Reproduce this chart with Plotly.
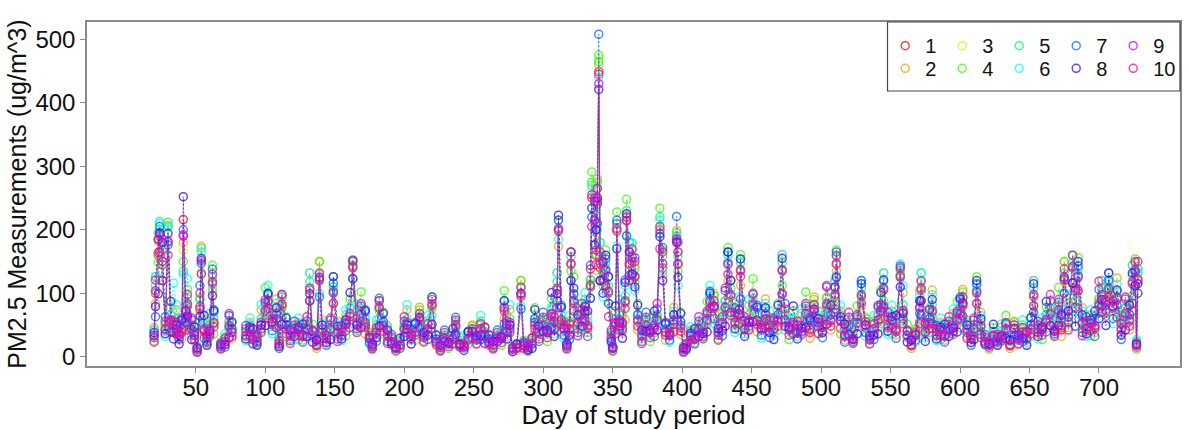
import plotly.graph_objects as go

N = None
days = [
    20, 21, 23, 24, 26, 28, 30, 32, 34, 36,
    38, 40, 41, 43, 44, 47, 49, 51, 53, 54,
    56, 58, 60, 62, 63, 65, 68, 71, 74, 76,
    80, 86, 89, 91, 94, 97, 100, 102, 105, 108,
    110, 112, 115, 118, 121, 124, 127, 130, 132, 134,
    137, 139, 141, 144, 147, 149, 152, 155, 158, 161,
    163, 166, 169, 172, 175, 177, 180, 182, 185, 188,
    191, 194, 197, 200, 202, 205, 208, 211, 214, 217,
    220, 223, 226, 229, 232, 235, 237, 240, 243, 246,
    249, 252, 255, 258, 261, 264, 267, 270, 272, 274,
    276, 278, 281, 284, 286, 289, 292, 294, 297, 300,
    303, 306, 308, 310, 311, 313, 315, 317, 319, 320,
    322, 325, 328, 330, 332, 334, 335, 337, 338, 339,
    340, 341, 343, 345, 347, 349, 350, 352, 353, 355,
    357, 359, 360, 362, 364, 366, 368, 371, 374, 377,
    380, 382, 384, 386, 388, 391, 394, 396, 397, 399,
    401, 403, 406, 409, 412, 415, 418, 420, 423, 426,
    429, 431, 433, 435, 438, 441, 442, 445, 448, 451,
    454, 457, 460, 463, 466, 469, 472, 474, 477, 480,
    483, 486, 489, 492, 495, 498, 501, 504, 507, 510,
    511, 514, 517, 520, 523, 526, 529, 532, 535, 538,
    541, 543, 545, 548, 551, 554, 557, 559, 562, 565,
    568, 571, 572, 575, 578, 580, 583, 586, 589, 592,
    595, 598, 600, 602, 605, 608, 610, 612, 615, 618,
    621, 624, 627, 630, 633, 636, 639, 642, 645, 648,
    651, 653, 656, 659, 662, 665, 668, 671, 673, 675,
    678, 681, 683, 685, 688, 691, 694, 697, 700, 702,
    705, 707, 710, 713, 716, 719, 722, 724, 726, 727,
    728,
]

station_1 = [
    33, 100, 160, 190, 145, 42, 180, 55, 38, 52,
    28, 42, 216, 60, 80, 42, 33, 11, 75, 150,
    42, 22, 42, 115, 52, N, 17, 23, 46, 38,
    N, 32, 42, 28, 22, 50, 70, 85, 50, 66,
    20, 80, 42, 33, 38, 42, 32, 42, 105, 32,
    18, 120, 42, 28, 42, 100, 38, 33, 50, 66,
    140, 52, 66, 50, 28, 16, 38, 76, 46, 33,
    23, 13, 18, 42, 50, 28, 38, 58, 32, 42,
    80, 23, 14, 28, 20, 28, 46, 20, 14, 28,
    38, 28, 42, 33, 23, 18, 28, 28, 76, 38,
    50, 11, 14, 95, 18, 14, 20, 50, 38, 46,
    38, 66, 42, 105, 200, 55, 42, 17, 42, 145,
    85, 52, 56, 70, 46, 110, 250, 215, 160, 240,
    449, 140, 120, 135, 100, 28, 13, 52, 210, 56,
    42, 85, 215, 145, 150, 125, 56, 33, 46, 38,
    46, 56, 200, 140, 38, 33, 56, 185, 145, 46,
    11, 14, 33, 28, 42, 38, 56, 85, 76, 38,
    52, 76, 145, 95, 52, 66, 135, 42, 56, 80,
    56, 42, 66, 46, 42, 56, 135, 56, 42, 52,
    38, 46, 66, 42, 70, 52, 46, 80, 56, 95,
    145, 56, 33, 46, 28, 52, 95, 46, 28, 42,
    56, 70, 105, 46, 56, 42, 125, 70, 33, 18,
    33, 76, 105, 38, 52, 70, 33, 42, 33, 42,
    46, 56, 66, 80, 42, 28, 42, 100, 46, 23,
    18, 33, 23, 33, 42, 18, 42, 28, 38, 28,
    42, 95, 38, 42, 56, 66, 42, 70, 46, 120,
    62, 140, 76, 125, 52, 42, 52, 46, 80, 95,
    70, 105, 76, 90, 42, 66, 56, 115, 135, 18,
    120,
]

station_2 = [
    46, 84, 182, 166, 180, 40, 207, 45, 42, 74,
    26, 29, 180, 85, 68, 50, 25, 17, 72, 174,
    34, 26, 61, 102, 36, N, 23, 20, 55, 28,
    N, 32, 54, 22, 26, 74, 64, 58, 69, 91,
    18, 94, 32, 49, 36, 54, 26, 47, 132, 30,
    13, 150, 58, 24, 50, 84, 56, 32, 66, 52,
    152, 74, 60, 36, 38, 23, 32, 88, 35, 49,
    22, 17, 15, 47, 74, 26, 26, 78, 46, 36,
    94, 18, 21, 27, 26, 22, 52, 30, 13, 20,
    50, 39, 36, 38, 18, 28, 27, 36, 60, 42,
    74, 10, 10, 120, 26, 12, 24, 38, 56, 45,
    48, 52, 47, 132, 174, 39, 56, 23, 36, 165,
    63, 77, 54, 90, 38, 121, 270, 187, 136, 280,
    460, 120, 138, 112, 126, 27, 17, 41, 200, 81,
    38, 58, 223, 180, 128, 143, 42, 49, 45, 48,
    38, 63, 200, 128, 26, 44, 78, 199, 165, 35,
    17, 14, 42, 22, 47, 54, 51, 58, 100, 52,
    44, 88, 120, 120, 50, 84, 112, 47, 81, 72,
    39, 56, 91, 40, 50, 42, 161, 54, 54, 41,
    42, 68, 60, 29, 94, 72, 40, 94, 42, 120,
    135, 72, 26, 52, 40, 47, 80, 62, 39, 36,
    66, 52, 132, 45, 72, 34, 136, 101, 30, 13,
    44, 104, 88, 44, 38, 105, 32, 54, 26, 47,
    68, 51, 46, 106, 58, 24, 50, 84, 70, 22,
    24, 26, 26, 47, 38, 13, 56, 39, 32, 33,
    32, 120, 36, 54, 45, 74, 61, 64, 32, 150,
    84, 116, 88, 104, 77, 40, 66, 38, 89, 120,
    64, 88, 100, 124, 36, 77, 42, 144, 126, 24,
    100,
]

station_3 = [
    36, 102, 162, 185, 148, 46, 178, 58, 41, 56,
    31, 44, 168, 64, 84, 46, 36, 12, 78, 150,
    46, 24, 44, 118, 54, N, 19, 26, 49, 41,
    N, 34, 44, 31, 26, 54, 74, 88, 54, 68,
    23, 84, 44, 34, 41, 44, 34, 44, 108, 34,
    21, 122, 44, 31, 44, 102, 41, 34, 54, 68,
    142, 54, 68, 54, 31, 19, 41, 78, 49, 34,
    26, 14, 21, 44, 54, 31, 41, 60, 34, 44,
    84, 26, 16, 31, 23, 31, 49, 23, 16, 31,
    41, 31, 44, 34, 26, 21, 31, 31, 78, 41,
    54, 12, 16, 98, 21, 16, 23, 54, 41, 49,
    41, 68, 44, 108, 200, 58, 44, 19, 44, 146,
    88, 54, 58, 74, 49, 112, 255, 218, 168, 250,
    470, 146, 122, 138, 102, 31, 14, 54, 200, 58,
    44, 88, 220, 146, 158, 128, 58, 34, 49, 41,
    49, 58, 205, 146, 41, 34, 58, 185, 146, 49,
    12, 16, 34, 31, 44, 41, 58, 88, 78, 41,
    54, 78, 146, 98, 54, 68, 138, 44, 58, 84,
    58, 44, 68, 49, 44, 58, 138, 58, 44, 54,
    41, 49, 68, 44, 74, 54, 49, 84, 58, 98,
    146, 58, 34, 49, 31, 54, 98, 49, 31, 44,
    58, 74, 108, 49, 58, 44, 128, 74, 34, 21,
    34, 78, 108, 41, 54, 74, 34, 44, 34, 44,
    49, 58, 68, 84, 44, 31, 44, 102, 49, 26,
    21, 34, 26, 34, 44, 21, 44, 31, 41, 31,
    44, 98, 41, 44, 58, 68, 44, 74, 49, 122,
    64, 142, 78, 128, 54, 44, 54, 49, 84, 98,
    74, 108, 78, 94, 44, 68, 58, 118, 138, 21,
    122,
]

station_4 = [
    25, 126, 149, 200, 120, 52, 205, 78, 40, 41,
    44, 43, 150, 46, 106, 40, 49, 10, 92, 132,
    58, 25, 34, 144, 52, N, 13, 31, 45, 56,
    N, 40, 27, 39, 25, 41, 109, 86, 66, 49,
    28, 77, 63, 28, 46, 27, 46, 45, 88, 51,
    19, 150, 32, 38, 40, 126, 32, 40, 33, 91,
    145, 41, 102, 52, 36, 13, 50, 72, 70, 28,
    29, 8, 26, 45, 41, 44, 38, 74, 25, 56,
    76, 35, 12, 34, 13, 39, 50, 16, 22, 28,
    48, 21, 56, 32, 35, 16, 34, 18, 104, 40,
    41, 17, 14, 120, 14, 19, 20, 77, 32, 58,
    24, 91, 45, 88, 215, 57, 54, 13, 56, 135,
    126, 44, 69, 45, 65, 115, 291, 242, 162, 275,
    475, 180, 112, 168, 84, 34, 8, 72, 228, 45,
    65, 86, 248, 120, 179, 117, 84, 28, 58, 24,
    65, 60, 234, 168, 38, 42, 42, 195, 135, 70,
    10, 17, 21, 39, 45, 30, 87, 86, 96, 28,
    69, 72, 172, 80, 63, 42, 161, 45, 45, 123,
    57, 54, 49, 62, 40, 84, 112, 69, 27, 72,
    40, 38, 102, 43, 90, 38, 62, 76, 84, 80,
    168, 36, 46, 50, 22, 80, 95, 60, 21, 56,
    54, 105, 88, 58, 36, 58, 130, 56, 51, 19,
    42, 56, 132, 36, 77, 60, 40, 27, 46, 45,
    38, 87, 66, 102, 32, 38, 40, 126, 40, 29,
    12, 46, 25, 26, 65, 19, 54, 21, 50, 27,
    63, 80, 46, 27, 78, 70, 34, 109, 48, 150,
    46, 160, 72, 156, 44, 52, 33, 65, 85, 75,
    109, 104, 96, 67, 56, 63, 84, 96, 154, 12,
    138,
]

station_5 = [
    42, 112, 195, 213, 165, 50, 212, 66, 44, 60,
    34, 50, 135, 72, 92, 50, 40, 14, 90, 171,
    50, 28, 50, 125, 60, N, 21, 28, 55, 44,
    N, 40, 50, 34, 28, 60, 82, 96, 60, 76,
    26, 94, 50, 40, 44, 50, 40, 50, 118, 40,
    23, 130, 50, 34, 50, 110, 44, 40, 60, 76,
    152, 60, 76, 60, 34, 22, 44, 88, 55, 40,
    28, 16, 24, 50, 60, 34, 44, 68, 40, 50,
    94, 28, 18, 34, 26, 34, 55, 26, 18, 34,
    44, 34, 50, 40, 28, 24, 34, 34, 88, 44,
    60, 14, 18, 108, 24, 18, 26, 60, 44, 55,
    44, 76, 50, 118, 200, 66, 50, 22, 50, 158,
    98, 60, 66, 82, 55, 122, 275, 228, 178, 265,
    465, 158, 132, 148, 112, 34, 16, 60, 210, 66,
    50, 96, 230, 158, 168, 138, 66, 40, 55, 44,
    55, 66, 220, 158, 44, 40, 66, 190, 158, 55,
    14, 18, 40, 34, 50, 44, 66, 96, 88, 44,
    60, 88, 160, 108, 60, 76, 148, 50, 66, 92,
    66, 50, 76, 55, 50, 66, 148, 66, 50, 60,
    44, 55, 76, 50, 82, 60, 55, 92, 66, 108,
    158, 66, 40, 55, 34, 60, 108, 55, 34, 50,
    66, 82, 118, 55, 66, 50, 138, 82, 40, 24,
    40, 88, 118, 44, 60, 82, 40, 50, 40, 50,
    55, 66, 76, 92, 50, 34, 50, 112, 55, 28,
    24, 40, 28, 40, 50, 24, 50, 34, 44, 34,
    50, 108, 44, 50, 66, 76, 50, 82, 55, 132,
    72, 148, 88, 138, 60, 50, 60, 55, 92, 108,
    82, 118, 88, 102, 50, 76, 66, 128, 148, 24,
    132,
]

station_6 = [
    42, 126, 124, 210, 180, 32, 204, 66, 116, 82,
    27, 56, 130, 78, 123, 34, 35, 16, 56, 165,
    50, 20, 68, 108, 69, N, 22, 36, 64, 40,
    N, 25, 61, 33, 20, 82, 68, 112, 36, 84,
    32, 64, 45, 46, 28, 61, 38, 36, 132, 32,
    25, 100, 54, 44, 34, 105, 52, 25, 74, 77,
    123, 82, 63, 69, 20, 22, 58, 60, 50, 46,
    18, 19, 22, 36, 82, 27, 50, 40, 42, 65,
    64, 25, 20, 21, 30, 33, 40, 33, 14, 38,
    26, 36, 65, 26, 25, 26, 21, 40, 88, 32,
    82, 11, 19, 80, 24, 22, 16, 55, 52, 35,
    54, 77, 36, 132, 185, 75, 29, 22, 65, 120,
    90, 72, 42, 101, 55, 92, 265, 198, 204, 200,
    440, 180, 94, 140, 126, 21, 19, 60, 174, 90,
    40, 112, 191, 180, 179, 104, 60, 46, 35, 54,
    55, 48, 215, 135, 50, 23, 72, 190, 112, 50,
    16, 10, 47, 33, 36, 60, 54, 112, 52, 48,
    80, 60, 150, 120, 38, 94, 154, 36, 90, 76,
    75, 29, 84, 72, 34, 60, 161, 42, 61, 60,
    32, 75, 63, 56, 49, 66, 72, 64, 60, 120,
    128, 81, 38, 40, 45, 50, 120, 32, 36, 65,
    45, 75, 132, 35, 81, 50, 146, 112, 32, 25,
    23, 96, 132, 30, 55, 98, 25, 61, 38, 36,
    75, 54, 88, 55, 54, 44, 34, 105, 65, 18,
    27, 38, 20, 52, 40, 25, 29, 36, 58, 22,
    45, 120, 28, 61, 66, 56, 68, 68, 62, 100,
    78, 160, 60, 130, 72, 32, 74, 55, 68, 120,
    68, 132, 52, 114, 65, 52, 60, 144, 112, 27,
    138,
]

station_7 = [
    30, 63, 185, 205, 120, 63, 176, 39, 50, 44,
    34, 61, 200, 55, 51, 58, 38, 8, 112, 147,
    29, 31, 36, 138, 74, N, 15, 15, 65, 44,
    N, 49, 43, 20, 31, 44, 86, 100, 41, 60,
    13, 98, 50, 25, 56, 43, 23, 56, 88, 40,
    27, 94, 38, 18, 58, 116, 28, 49, 52, 46,
    152, 44, 80, 74, 22, 15, 24, 92, 55, 24,
    35, 13, 13, 56, 44, 34, 54, 46, 30, 27,
    94, 28, 10, 42, 21, 20, 62, 18, 17, 40,
    30, 26, 27, 46, 28, 14, 42, 29, 52, 50,
    44, 14, 20, 75, 17, 9, 29, 60, 28, 70,
    38, 46, 56, 88, 215, 81, 34, 15, 27, 165,
    99, 38, 84, 71, 32, 144, 220, 245, 200, 210,
    508, 120, 150, 154, 84, 42, 13, 36, 215, 48,
    52, 121, 190, 128, 130, 156, 66, 24, 70, 38,
    32, 75, 194, 172, 54, 26, 51, 221, 180, 55,
    8, 21, 33, 20, 56, 32, 69, 103, 60, 34,
    33, 104, 165, 70, 77, 66, 91, 56, 48, 98,
    81, 34, 60, 30, 58, 66, 98, 84, 43, 36,
    50, 40, 80, 61, 56, 47, 30, 110, 66, 70,
    165, 57, 23, 62, 24, 63, 120, 38, 26, 27,
    78, 82, 77, 70, 57, 29, 143, 60, 40, 27,
    26, 68, 66, 52, 60, 52, 49, 43, 23, 56,
    40, 69, 94, 64, 38, 18, 58, 115, 35, 35,
    19, 23, 31, 28, 52, 27, 34, 26, 24, 39,
    50, 70, 56, 43, 39, 88, 36, 86, 68, 100,
    55, 116, 104, 143, 38, 63, 52, 32, 106, 80,
    86, 121, 60, 81, 27, 91, 66, 84, 133, 19,
    100,
]

station_8 = [
    38, 79, 99, 195, 180, 36, 194, 87, 28, 50,
    20, 58, 252, 72, 64, 27, 47, 14, 64, 155,
    65, 18, 40, 96, 72, N, 20, 19, 30, 54,
    N, 28, 47, 44, 18, 50, 49, 99, 55, 77,
    16, 51, 61, 42, 32, 47, 51, 32, 99, 23,
    26, 125, 50, 22, 27, 126, 48, 28, 58, 101,
    123, 50, 46, 72, 30, 20, 30, 48, 68, 42,
    20, 15, 29, 32, 50, 20, 52, 62, 38, 34,
    51, 34, 18, 24, 23, 44, 35, 20, 10, 39,
    40, 33, 34, 21, 34, 24, 24, 32, 88, 28,
    50, 8, 20, 100, 22, 11, 13, 74, 48, 40,
    42, 101, 32, 99, 223, 78, 45, 20, 34, 120,
    108, 66, 48, 79, 72, 92, 234, 176, 200, 250,
    421, 120, 100, 160, 126, 24, 15, 80, 170, 54,
    29, 117, 225, 165, 130, 110, 81, 42, 40, 42,
    72, 42, 189, 120, 52, 35, 66, 180, 125, 68,
    14, 12, 37, 44, 32, 36, 39, 100, 80, 44,
    41, 48, 165, 120, 44, 74, 154, 32, 54, 55,
    78, 45, 77, 38, 27, 81, 155, 48, 47, 80,
    28, 45, 46, 58, 75, 60, 38, 51, 81, 110,
    125, 63, 51, 35, 27, 36, 115, 50, 33, 34,
    36, 101, 121, 40, 63, 65, 110, 68, 23, 26,
    35, 88, 88, 24, 74, 90, 28, 47, 51, 32,
    45, 39, 91, 85, 50, 22, 27, 120, 60, 20,
    21, 51, 18, 32, 29, 26, 45, 33, 30, 18,
    61, 115, 32, 47, 87, 49, 40, 49, 65, 125,
    72, 116, 48, 150, 66, 36, 58, 72, 60, 90,
    49, 132, 80, 105, 34, 42, 81, 132, 112, 21,
    115,
]

station_9 = [
    34, 104, 164, 192, 150, 44, 182, 58, 39, 54,
    29, 44, 190, 63, 83, 44, 34, 12, 79, 152,
    44, 24, 44, 118, 54, N, 18, 24, 49, 39,
    N, 34, 44, 29, 24, 54, 73, 88, 54, 68,
    21, 83, 44, 34, 39, 44, 34, 44, 108, 34,
    19, 122, 44, 29, 44, 102, 39, 34, 54, 68,
    142, 54, 68, 54, 29, 18, 39, 78, 49, 34,
    24, 14, 19, 44, 54, 29, 39, 60, 34, 44,
    83, 24, 15, 29, 21, 29, 49, 21, 15, 29,
    39, 29, 44, 34, 24, 19, 29, 29, 78, 39,
    54, 12, 15, 98, 19, 15, 21, 54, 39, 49,
    39, 68, 44, 108, 202, 58, 44, 18, 44, 147,
    88, 54, 58, 73, 49, 112, 255, 215, 168, 245,
    430, 147, 122, 137, 103, 29, 14, 54, 202, 58,
    44, 88, 220, 147, 157, 127, 58, 34, 49, 39,
    49, 58, 205, 147, 39, 34, 58, 186, 147, 49,
    12, 15, 34, 29, 44, 39, 58, 88, 78, 39,
    54, 78, 147, 98, 54, 68, 137, 44, 58, 83,
    58, 44, 68, 49, 44, 58, 137, 58, 44, 54,
    39, 49, 68, 44, 73, 54, 49, 83, 58, 98,
    147, 58, 34, 49, 29, 54, 98, 49, 29, 44,
    58, 73, 108, 49, 58, 44, 127, 73, 34, 19,
    34, 78, 108, 39, 54, 73, 34, 44, 34, 44,
    49, 58, 68, 83, 44, 29, 44, 103, 49, 24,
    19, 34, 24, 34, 44, 19, 44, 29, 39, 29,
    44, 98, 39, 44, 58, 68, 44, 73, 49, 122,
    63, 142, 78, 127, 54, 44, 54, 49, 83, 98,
    73, 108, 78, 93, 44, 68, 58, 118, 137, 19,
    122,
]

station_10 = [
    23, 121, 185, 165, 120, 56, 160, 54, 56, 38,
    36, 38, 192, 42, 98, 61, 28, 7, 100, 130,
    40, 35, 32, 130, 47, N, 12, 29, 68, 32,
    N, 44, 34, 27, 35, 38, 90, 76, 60, 46,
    25, 98, 36, 21, 50, 34, 32, 63, 88, 42,
    17, 132, 29, 34, 61, 84, 24, 44, 41, 63,
    150, 38, 84, 47, 33, 12, 46, 88, 40, 21,
    31, 10, 18, 63, 38, 36, 34, 68, 23, 52,
    90, 20, 9, 38, 16, 27, 58, 15, 18, 26,
    44, 20, 52, 47, 20, 12, 38, 22, 72, 56,
    38, 14, 13, 110, 13, 17, 30, 44, 24, 62,
    30, 63, 63, 77, 198, 51, 50, 12, 52, 165,
    72, 33, 75, 56, 45, 138, 205, 250, 145, 265,
    445, 165, 150, 112, 63, 38, 10, 50, 198, 42,
    54, 76, 214, 120, 170, 150, 48, 21, 62, 30,
    45, 84, 170, 165, 34, 38, 39, 182, 165, 40,
    7, 19, 26, 27, 63, 28, 72, 76, 88, 26,
    63, 108, 130, 65, 69, 52, 126, 63, 42, 100,
    51, 50, 46, 58, 61, 48, 100, 75, 34, 50,
    56, 35, 84, 38, 82, 36, 58, 112, 48, 75,
    160, 45, 32, 70, 21, 66, 85, 55, 20, 52,
    81, 60, 80, 62, 45, 40, 140, 52, 42, 17,
    38, 52, 120, 54, 44, 45, 44, 34, 32, 63,
    35, 72, 60, 94, 29, 34, 61, 84, 30, 31,
    15, 32, 35, 25, 54, 17, 50, 20, 46, 40,
    36, 80, 50, 34, 54, 98, 32, 90, 42, 138,
    42, 160, 108, 104, 33, 56, 41, 45, 119, 70,
    90, 94, 88, 62, 52, 94, 48, 72, 150, 15,
    150,
]

station_names = ["1", "2", "3", "4", "5", "6", "7", "8", "9", "10"]
station_values = [station_1, station_2, station_3, station_4, station_5,
                  station_6, station_7, station_8, station_9, station_10]
station_colors = ["rgba(255,0,0,0.75)", "rgba(255,153,0,0.75)", "rgba(204,255,0,0.75)",
                  "rgba(51,255,0,0.75)", "rgba(0,255,102,0.75)", "rgba(0,255,255,0.75)",
                  "rgba(0,102,255,0.75)", "rgba(51,0,255,0.75)", "rgba(204,0,255,0.75)",
                  "rgba(255,0,153,0.75)"]
x_ticks = [50, 100, 150, 200, 250, 300, 350, 400, 450, 500, 550, 600, 650, 700]
y_ticks = [0, 100, 200, 300, 400, 500]

for nm, vals in zip(station_names, station_values):
    assert len(vals) == len(days), (nm, len(vals), len(days))

FONT = "Arial, Liberation Sans, sans-serif"
fig = go.Figure()
for i, (nm, vals, col) in enumerate(zip(station_names, station_values, station_colors)):
    fig.add_trace(go.Scatter(
        x=days, y=vals, mode="lines", connectgaps=False,
        line=dict(color=col, width=1, dash="2px,2px"),
        showlegend=False, hoverinfo="skip"))
    fig.add_trace(go.Scatter(
        x=days, y=vals, mode="markers", name=nm,
        marker=dict(symbol="circle-open", size=8, color=col, line=dict(width=1.5, color=col)),
        legend="legend" if i % 2 == 0 else "legend2",
        legendwidth=22 if i >= 8 else None))

axis_common = dict(showgrid=False, zeroline=False, showline=True, mirror=True,
                   linecolor="#8a8a8a", linewidth=1.5, ticks="outside", ticklen=5,
                   tickwidth=1.2, tickcolor="#8a8a8a",
                   tickfont=dict(family=FONT, size=24, color="#111"))

fig.update_layout(
    width=1189, height=430,
    margin=dict(l=87, r=7, t=22, b=64),
    paper_bgcolor="white", plot_bgcolor="white",
    font=dict(family=FONT, color="#111"),
    xaxis=dict(range=[-28.3, 758.3], tickmode="array", tickvals=x_ticks,
               ticklabelstandoff=-6,
               title=dict(text="Day of study period", font=dict(family=FONT, size=26), standoff=2),
               **axis_common),
    yaxis=dict(range=[-14.6, 527.2], tickmode="array", tickvals=y_ticks,
               title=dict(text="PM2.5 Measurements (ug/m^3)", font=dict(family=FONT, size=25), standoff=2),
               **axis_common),
    legend=dict(x=0.7303, y=0.988, xanchor="left", yanchor="top", orientation="h",
                entrywidth=12, entrywidthmode="pixels", itemsizing="trace",
                font=dict(family=FONT, size=20, color="#111"),
                bgcolor="rgba(0,0,0,0)", borderwidth=0),
    legend2=dict(x=0.7303, y=0.922, xanchor="left", yanchor="top", orientation="h",
                 entrywidth=12, entrywidthmode="pixels", itemsizing="trace",
                 font=dict(family=FONT, size=20, color="#111"),
                 bgcolor="rgba(0,0,0,0)", borderwidth=0),
    shapes=[dict(type="rect", xref="paper", yref="paper", x0=0.7324, x1=1.0, y0=0.7994, y1=1.0,
                 line=dict(color="#444", width=1.2), fillcolor="white", layer="above")],
)

fig.write_html("out.html")
